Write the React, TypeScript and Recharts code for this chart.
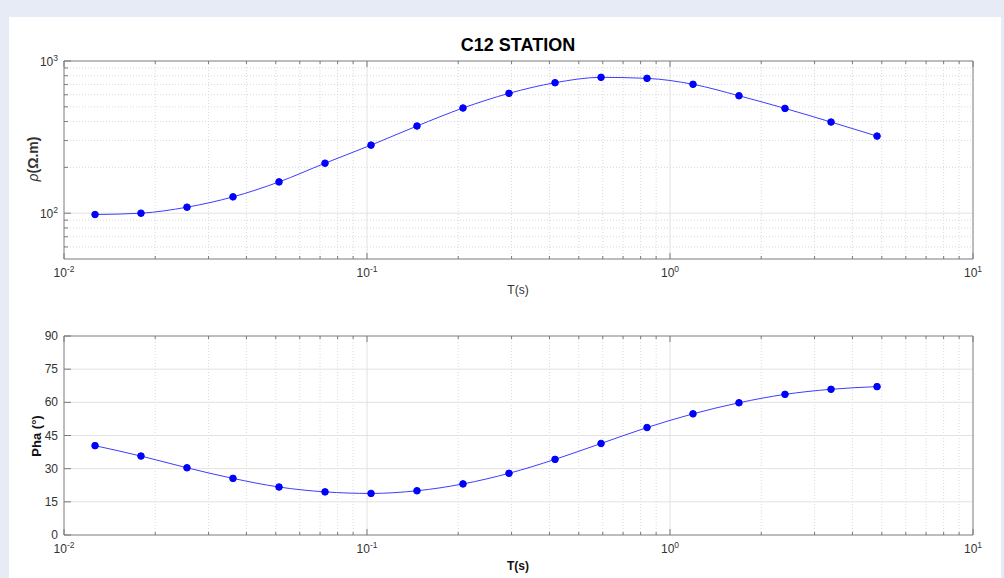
import React from 'react';
import { LineChart, Line, XAxis, YAxis, CartesianGrid } from 'recharts';

// periods (s) and MT responses
const periods = [0.01266, 0.01795, 0.02546, 0.03612, 0.05124, 0.07268, 0.1031, 0.1462, 0.2074, 0.2942, 0.4174, 0.5921, 0.8397, 1.191, 1.689, 2.396, 3.4, 4.823];
const rho = [98, 100, 109.5, 128, 160.5, 213, 280, 374, 491, 613, 720, 781, 769, 703, 591, 488, 397, 321];
const phase = [40.4, 35.7, 30.4, 25.6, 21.7, 19.5, 18.8, 20.0, 23.1, 27.9, 34.2, 41.4, 48.6, 54.8, 59.8, 63.6, 65.9, 67.1];

const xMajor = [0.01, 0.1, 1, 10];
const xMinor = [0.02, 0.03, 0.04, 0.05, 0.06, 0.07, 0.08, 0.09, 0.2, 0.3, 0.4, 0.5, 0.6, 0.7, 0.8, 0.9, 2, 3, 4, 5, 6, 7, 8, 9];
const rhoMajor = [100, 1000];
const rhoMinor = [60, 70, 80, 90, 200, 300, 400, 500, 600, 700, 800, 900];
const phaseTicks = [0, 15, 30, 45, 60, 75, 90];

const rhoData = periods.map((t, i) => ({ t, rho: rho[i] }));
const phaseData = periods.map((t, i) => ({ t, phase: phase[i] }));

const FONT = '"Liberation Sans", Arial, Helvetica, sans-serif';
const AXIS = '#7a7a7a';
const LABEL = '#333';
const BLUE = '#0000ff';

const makeXTick = (side: 'bottom' | 'top', showLabel: boolean) => (props: any) => {
    const { x, y, payload } = props;
    const v = payload.value;
    const major = xMajor.includes(v);
    const len = major ? 6 : 3;
    const dir = side === 'bottom' ? -1 : 1;
    return (
        <g>
            <line x1={x} y1={y} x2={x} y2={y + dir * len} stroke={AXIS} />
            {showLabel && major && (
                <text x={x} y={y + 18} textAnchor="middle" fontSize={12} fill={LABEL} fontFamily={FONT}>
                    10<tspan dy={-5} fontSize={8.5}>{Math.round(Math.log10(v))}</tspan>
                </text>
            )}
        </g>
    );
};

const makeYTick = (side: 'left' | 'right', majors: number[], log: boolean, showLabel: boolean) => (props: any) => {
    const { x, y, payload } = props;
    const v = payload.value;
    const major = majors.includes(v);
    const len = major ? 7 : 4;
    const dir = side === 'left' ? 1 : -1;
    return (
        <g>
            <line x1={x} y1={y} x2={x + dir * len} y2={y} stroke={AXIS} />
            {showLabel && major && (log ? (
                <text x={x - 6} y={y + 5} textAnchor="end" fontSize={12} fill={LABEL} fontFamily={FONT}>
                    10<tspan dy={-5} fontSize={8.5}>{Math.round(Math.log10(v))}</tspan>
                </text>
            ) : (
                <text x={x - 6} y={y + 4} textAnchor="end" fontSize={12} fill={LABEL} fontFamily={FONT}>
                    {v}
                </text>
            ))}
        </g>
    );
};

const xTicks = [...xMajor, ...xMinor];
const rhoTicks = [...rhoMajor, ...rhoMinor];

export default function App() {
    return (
        <div style={{ position: 'absolute', left: 0, top: 0, width: 1004, height: 578, background: '#e6ebf6', fontFamily: FONT }}>
            <div style={{ position: 'absolute', left: 9, top: 17, width: 992, height: 561, background: '#fff' }} />

            <div style={{ position: 'absolute', left: 0, top: 0 }}>
                <LineChart width={1004} height={300} data={rhoData} margin={{ top: 60, right: 30, bottom: 11, left: 4 }}>
                    <CartesianGrid horizontalValues={rhoMinor} verticalValues={xMinor} stroke="#d9d9d9" strokeDasharray="1 2" />
                    <CartesianGrid horizontalValues={[100]} verticalValues={[0.1, 1]} stroke="#e2e2e2" />
                    <XAxis dataKey="t" type="number" scale="log" domain={[0.01, 10]} ticks={xTicks} interval={0}
                        height={30} tickSize={0} tickMargin={0} axisLine={{ stroke: AXIS }} tick={makeXTick('bottom', true)} />
                    <XAxis xAxisId="top" orientation="top" dataKey="t" type="number" scale="log" domain={[0.01, 10]} ticks={xTicks} interval={0}
                        height={1} tickSize={0} tickMargin={0} axisLine={{ stroke: AXIS }} tick={makeXTick('top', false)} />
                    <YAxis type="number" scale="log" domain={[50, 1000]} ticks={rhoTicks} interval={0}
                        width={60} tickSize={0} tickMargin={0} axisLine={{ stroke: AXIS }} tick={makeYTick('left', rhoMajor, true, true)} />
                    <YAxis yAxisId="right" orientation="right" type="number" scale="log" domain={[50, 1000]} ticks={rhoTicks} interval={0}
                        width={1} tickSize={0} tickMargin={0} axisLine={{ stroke: AXIS }} tick={makeYTick('right', rhoMajor, true, false)} />
                    <Line dataKey="rho" type="monotone" stroke="#3d3dff" strokeWidth={1}
                        dot={{ r: 3.3, fill: BLUE, stroke: BLUE, strokeWidth: 1 }} isAnimationActive={false} />
                </LineChart>
            </div>

            <div style={{ position: 'absolute', left: 0, top: 300 }}>
                <LineChart width={1004} height={278} data={phaseData} margin={{ top: 35, right: 30, bottom: 13, left: 4 }}>
                    <CartesianGrid horizontal={false} verticalValues={xMinor} stroke="#d9d9d9" strokeDasharray="1 2" />
                    <CartesianGrid horizontalValues={[15, 30, 45, 60, 75]} verticalValues={[0.1, 1]} stroke="#e2e2e2" />
                    <XAxis dataKey="t" type="number" scale="log" domain={[0.01, 10]} ticks={xTicks} interval={0}
                        height={30} tickSize={0} tickMargin={0} axisLine={{ stroke: AXIS }} tick={makeXTick('bottom', true)} />
                    <XAxis xAxisId="top" orientation="top" dataKey="t" type="number" scale="log" domain={[0.01, 10]} ticks={xTicks} interval={0}
                        height={1} tickSize={0} tickMargin={0} axisLine={{ stroke: AXIS }} tick={makeXTick('top', false)} />
                    <YAxis type="number" domain={[0, 90]} ticks={phaseTicks} interval={0}
                        width={60} tickSize={0} tickMargin={0} axisLine={{ stroke: AXIS }} tick={makeYTick('left', phaseTicks, false, true)} />
                    <YAxis yAxisId="right" orientation="right" type="number" domain={[0, 90]} ticks={phaseTicks} interval={0}
                        width={1} tickSize={0} tickMargin={0} axisLine={{ stroke: AXIS }} tick={makeYTick('right', phaseTicks, false, false)} />
                    <Line dataKey="phase" type="monotone" stroke="#3d3dff" strokeWidth={1}
                        dot={{ r: 3.3, fill: BLUE, stroke: BLUE, strokeWidth: 1 }} isAnimationActive={false} />
                </LineChart>
            </div>

            <div style={{ position: 'absolute', left: 318, width: 400, top: 33, textAlign: 'center', fontSize: 18, fontWeight: 'bold', color: '#000', lineHeight: '24px' }}>
                C12 STATION
            </div>
            <div style={{ position: 'absolute', left: 418, width: 200, top: 282, textAlign: 'center', fontSize: 12, color: LABEL, lineHeight: '16px' }}>
                T(s)
            </div>
            <div style={{ position: 'absolute', left: 418, width: 200, top: 558, textAlign: 'center', fontSize: 12, fontWeight: 'bold', color: '#111', lineHeight: '16px' }}>
                T(s)
            </div>
            <div style={{ position: 'absolute', left: 33, top: 159, width: 0, height: 0 }}>
                <div style={{ position: 'absolute', left: -60, top: -9, width: 120, textAlign: 'center', fontSize: 14, lineHeight: '18px', color: LABEL, transform: 'rotate(-90deg)' }}>
                    <span style={{ fontStyle: 'italic' }}>ρ</span><span style={{ fontWeight: 'bold' }}>(Ω.m)</span>
                </div>
            </div>
            <div style={{ position: 'absolute', left: 37, top: 436, width: 0, height: 0 }}>
                <div style={{ position: 'absolute', left: -60, top: -9, width: 120, textAlign: 'center', fontSize: 13, lineHeight: '18px', fontWeight: 'bold', color: '#111', transform: 'rotate(-90deg)' }}>
                    Pha (°)
                </div>
            </div>
        </div>
    );
}
